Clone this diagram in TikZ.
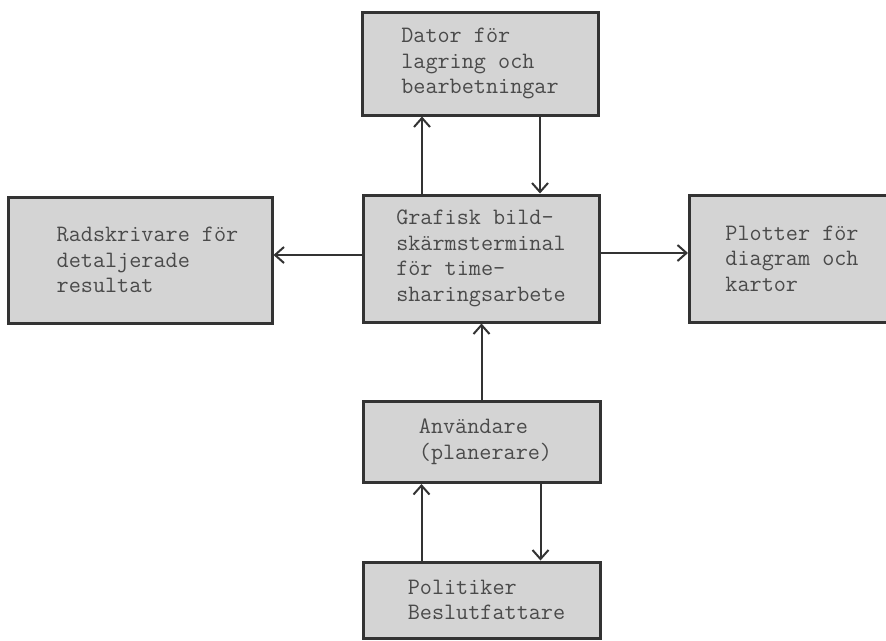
\documentclass[tikz,border=0pt]{standalone}
\usepackage{xcolor}
\usepackage{tikz}
\usetikzlibrary{positioning,arrows.meta}

\definecolor{boxfill}{HTML}{D4D4D4}
\definecolor{boxline}{HTML}{333333}
\definecolor{boxtext}{HTML}{4A4A4A}

\begin{document}
\begin{tikzpicture}[
    x=1pt, y=-1pt,
    >={Straight Barb[length=9pt,width=16pt,line width=2pt]},
    unit/.style={draw=boxline, line width=3pt, fill=boxfill, text=boxtext, align=left, inner sep=0pt,
        font={\fontsize{23.5}{25.5}\selectfont\ttfamily}},
    arrow/.style={->, line width=2pt, draw=boxline},
]
\clip (0,0) rectangle (886,640);
\fill[white] (0,0) rectangle (886,640);

\node[unit, minimum width=236pt, minimum height=103pt] (dator) at (480,63.5) {Dator för\\lagring och\\bearbetningar};
\node[unit, minimum width=236pt, minimum height=127pt] (grafisk) at (481,258.5) {Grafisk bild-\\skärmsterminal\\för time-\\sharingsarbete};
\node[unit, minimum width=264pt, minimum height=126pt] (radskr) at (140,260) {\hspace*{15pt}Radskrivare för\\\hspace*{15pt}detaljerade\\\hspace*{15pt}resultat};
\node[unit, minimum width=205pt, minimum height=127pt] (plotter) at (792,258.5) {Plotter för\\diagram och\\kartor};
\node[unit, minimum width=237pt, minimum height=81pt] (anv) at (481.5,442) {\hspace*{8pt}Användare\\\hspace*{8pt}(planerare)};
\node[unit, minimum width=237pt, minimum height=76pt] (polit) at (481.5,600) {\hspace*{10pt}Politiker\\\hspace*{10pt}Beslutfattare};

\draw[arrow] ([xshift=-59pt]grafisk.north) -- ([xshift=-59pt]grafisk.north |- dator.south);
\draw[arrow] ([xshift=59pt]grafisk.north |- dator.south) -- ([xshift=59pt]grafisk.north);
\draw[arrow] (grafisk.west |- 0,255) -- (radskr.east |- 0,255);
\draw[arrow] (grafisk.east |- 0,253) -- (plotter.west |- 0,253);
\draw[arrow] (anv.north) -- (anv.north |- grafisk.south);
\draw[arrow] ([xshift=-60pt]polit.north) -- ([xshift=-60pt]polit.north |- anv.south);
\draw[arrow] ([xshift=59pt]polit.north |- anv.south) -- ([xshift=59pt]polit.north);
\end{tikzpicture}
\end{document}
